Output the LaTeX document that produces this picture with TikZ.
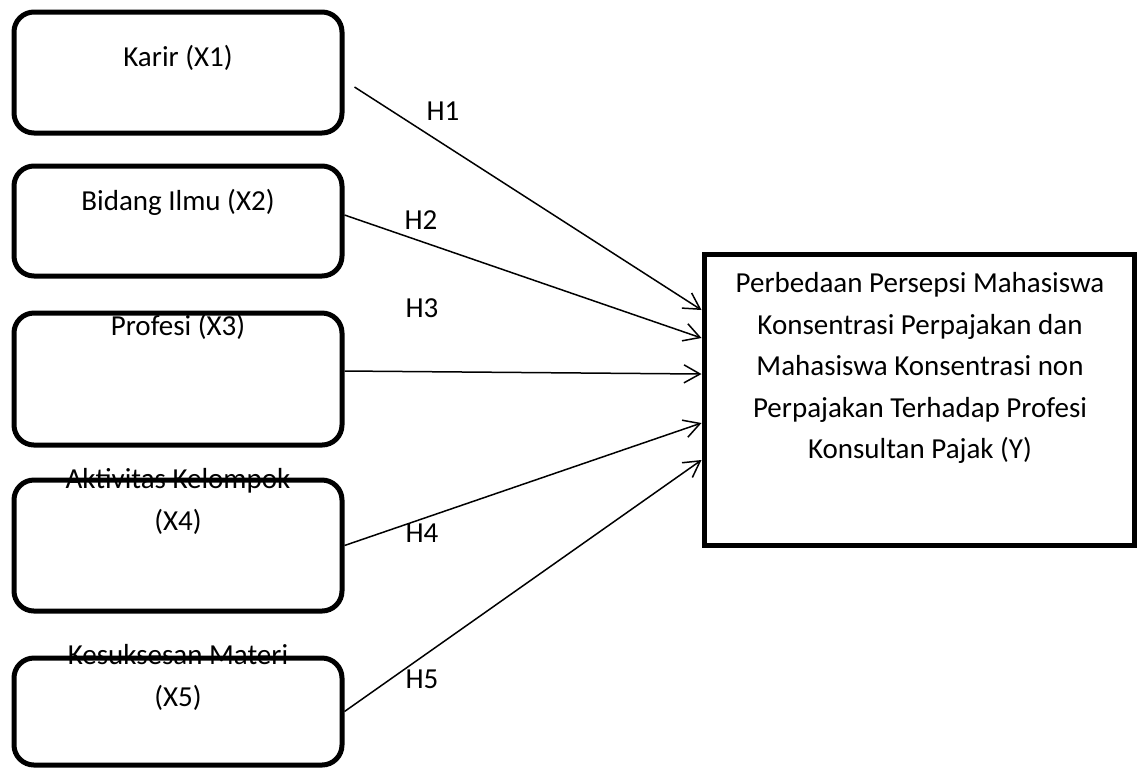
\documentclass[tikz,border=0pt]{standalone}
\usepackage{fontspec}
\setmainfont{Carlito}
\usetikzlibrary{arrows.meta, positioning}

\begin{document}
\begin{tikzpicture}[x=0.5pt, y=-0.5pt, >={Straight Barb[length=8pt, width=9pt]},
    varbox/.style={draw, line width=2.5pt, rounded corners=10pt, minimum width=164pt},
    ybox/.style={draw, line width=2.5pt, minimum width=215pt, minimum height=145.5pt},
    txt/.style={font=\fontsize{14.5}{21}\selectfont, align=center, inner sep=0pt},
    hyp/.style={->, line width=0.75pt}]
        % --- area ---
        \useasboundingbox (0,0) rectangle (1138,767);

        % --- variable boxes (X1 ... X5) ---
        \foreach \n/\cy/\h in {1/72.5/60.5, 2/221/55, 3/379/66, 4/545.5/65.5, 5/711.5/53.5}
            \node[varbox, minimum height=\h pt] (x\n) at (178,\cy) {};

        \node[txt] (x1t) at (178,58) {Karir (X1)};
        \node[txt] (x2t) at (178,202) {Bidang Ilmu (X2)};
        \node[txt] (x3t) at (178,327) {Profesi (X3)};
        \node[txt] (x4t) at (178,501) {Aktivitas Kelompok\\(X4)};
        \node[txt] (x5t) at (178,677.5) {Kesuksesan Materi\\(X5)};

        % --- dependent variable (Y) ---
        \node[ybox] (y) at (919,399.5) {};
        \node[txt, font=\fontsize{14.5}{20.75}\selectfont] (yt) at (920,368)
            {Perbedaan Persepsi Mahasiswa\\Konsentrasi Perpajakan dan\\Mahasiswa Konsentrasi non\\Perpajakan Terhadap Profesi\\Konsultan Pajak (Y)};

        % --- hypotheses ---
        \foreach \n/\lx/\ly in {1/443/111, 2/421/220, 3/422/308, 4/422/533, 5/422/679}
            \node[txt] (h\n) at (\lx,\ly) {H\n};

        \draw[hyp] ([xshift=5pt, yshift=-7.25pt]x1.east) -- ([yshift=44.75pt]y.west);
        \draw[hyp] ([yshift=3pt]x2.east) -- ([yshift=30.75pt]y.west);
        \draw[hyp] ([yshift=4pt]x3.east) -- ([yshift=12.75pt]y.west);
        \draw[hyp] (x4.east) -- ([yshift=-11.75pt]y.west);
        \draw[hyp] (x5.east) -- ([yshift=-30.25pt]y.west);

    \end{tikzpicture}
\end{document}
